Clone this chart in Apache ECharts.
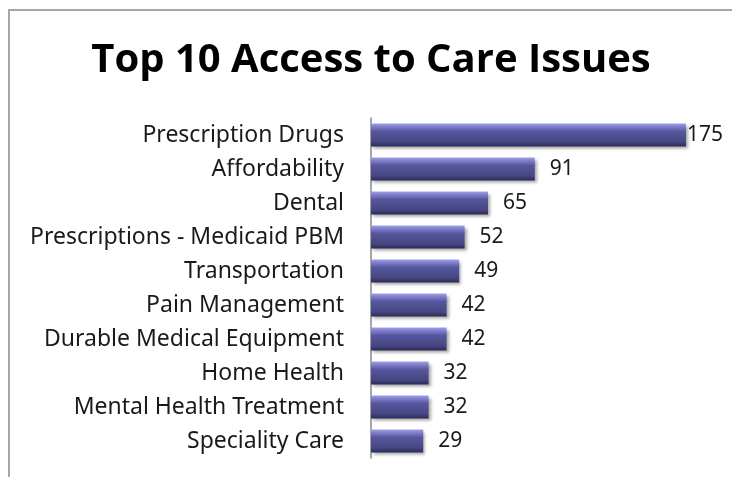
<!DOCTYPE html>
<html><head><meta charset="utf-8">
<script src="https://cdn.jsdelivr.net/npm/echarts@6/dist/echarts.min.js"></script>
<style>html,body{margin:0;padding:0;background:#fff}#c{width:732px;height:477px}</style>
</head><body><div id="c"></div>
<script>
var categories = ["Prescription Drugs","Affordability","Dental","Prescriptions - Medicaid PBM","Transportation","Pain Management","Durable Medical Equipment","Home Health","Mental Health Treatment","Speciality Care"];
var values = [175,91,65,52,49,42,42,32,32,29];
var chart = echarts.init(document.getElementById('c'));
var data = values.map(function(v,i){
  return i===0 ? {value:v,label:{distance:1}} : v;
});
chart.setOption({
  animation:false,
  title:{text:'Top 10 Access to Care Issues',left:366,top:36,textAlign:'center',
    textStyle:{fontFamily:'Open Sans',fontWeight:'bold',fontSize:40,color:'#000'}},
  graphic:[{type:'polyline',shape:{points:[[9,477],[9,10],[732,10]]},style:{stroke:'#a6a6a6',lineWidth:2,fill:null}}],
  grid:{left:371,top:118,width:315,height:340,containLabel:false},
  xAxis:{type:'value',min:0,max:175,show:false},
  yAxis:{type:'category',data:categories,inverse:true,
    axisLine:{show:true,lineStyle:{color:'#888',width:1.5}},axisTick:{show:false},
    axisLabel:{fontFamily:'Noto Sans',fontSize:23,color:'#1a1a1a',margin:27}},
  series:[{type:'bar',data:data,barWidth:23,
    itemStyle:{color:new echarts.graphic.LinearGradient(0,0,0,1,[
      {offset:0,color:'#a0a0e6'},{offset:0.15,color:'#7c7cca'},{offset:0.35,color:'#56569f'},{offset:0.8,color:'#464682'},{offset:1,color:'#2a2a55'}]),
      shadowColor:'rgba(0,0,0,0.35)',shadowBlur:3,shadowOffsetX:2,shadowOffsetY:2},
    label:{show:true,position:'right',distance:15,fontFamily:'Noto Sans',fontSize:21,color:'#1a1a1a'}}]
});
</script></body></html>
